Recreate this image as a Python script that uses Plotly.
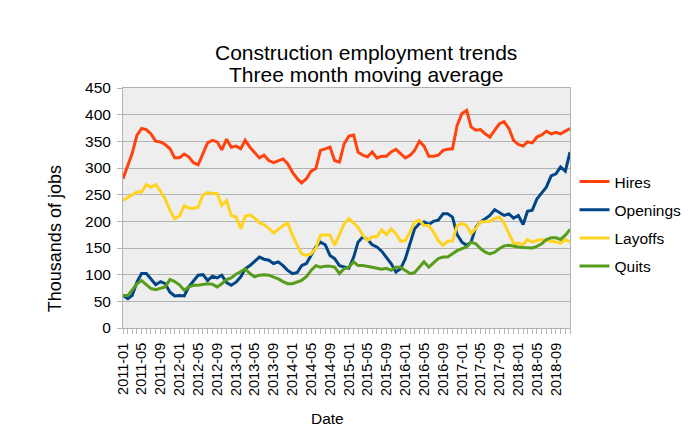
import plotly.graph_objects as go

# ---- data (thousands of jobs, three month moving average) ----
months = [f"{y}-{m:02d}-01" for y in range(2011, 2019) for m in range(1, 13)]

hires = [280, 305, 327, 361, 374, 372, 364, 350, 349, 344, 336, 319, 319, 326, 321, 310,
         306, 327, 347, 352, 349, 334, 354, 339, 341, 336, 352, 339, 330, 319, 324, 314,
         310, 314, 317, 308, 292, 280, 272, 280, 294, 299, 333, 336, 339, 314, 311, 345,
         360, 362, 330, 324, 321, 330, 319, 322, 322, 330, 335, 327, 319, 324, 333, 350,
         341, 322, 322, 324, 333, 335, 336, 380, 402, 408, 377, 371, 372, 364, 358, 371,
         383, 387, 374, 352, 344, 341, 349, 347, 358, 362, 369, 364, 367, 364, 369, 374]

openings = [61, 55, 61, 86, 102, 102, 92, 81, 87, 83, 67, 60, 61, 60, 77, 89,
            99, 100, 89, 97, 94, 99, 85, 80, 86, 96, 111, 117, 124, 133, 129, 127,
            121, 124, 117, 108, 102, 104, 117, 121, 136, 152, 161, 156, 136, 130, 117, 114,
            112, 133, 161, 171, 166, 156, 152, 144, 133, 121, 105, 111, 130, 161, 186, 196,
            199, 194, 200, 202, 214, 214, 208, 175, 161, 155, 161, 189, 199, 205, 211, 222,
            217, 211, 214, 206, 211, 194, 219, 221, 242, 254, 264, 285, 289, 302, 294, 330]

layoffs = [239, 244, 249, 255, 255, 269, 264, 269, 256, 242, 221, 205, 210, 229, 225, 224,
           227, 249, 254, 252, 252, 230, 239, 211, 208, 186, 209, 212, 206, 197, 194, 187,
           178, 185, 192, 197, 174, 155, 139, 136, 139, 149, 174, 175, 174, 155, 175, 195,
           205, 196, 189, 174, 164, 171, 171, 184, 175, 186, 177, 163, 164, 180, 199, 202,
           192, 192, 180, 164, 155, 163, 163, 192, 196, 192, 177, 187, 199, 199, 200, 205,
           208, 196, 177, 159, 159, 156, 166, 161, 164, 166, 164, 163, 161, 159, 166, 161]

quits = [61, 61, 71, 83, 89, 81, 74, 72, 75, 77, 91, 87, 81, 71, 77, 80,
         80, 81, 83, 82, 77, 83, 91, 94, 101, 106, 111, 102, 96, 99, 100, 99,
         96, 92, 87, 83, 83, 86, 89, 96, 108, 117, 114, 116, 116, 114, 102, 111,
         114, 124, 117, 117, 116, 114, 112, 110, 112, 108, 114, 114, 108, 102, 104, 114,
         124, 114, 121, 130, 133, 133, 139, 145, 149, 152, 161, 158, 149, 142, 139, 142,
         149, 154, 155, 153, 152, 151, 150, 150, 153, 158, 166, 169, 169, 166, 174, 185]

series_names = ["Hires", "Openings", "Layoffs", "Quits"]
series_values = [hires, openings, layoffs, quits]
series_colors = ["#ff420e", "#004586", "#ffd320", "#579d1c"]

FONT = "Liberation Sans, Arial, sans-serif"

fig = go.Figure()
for name, vals, col in zip(series_names, series_values, series_colors):
    fig.add_trace(go.Scatter(x=months, y=vals, name=name, mode="lines",
                             legendgroup=name,
                             line=dict(color=col, width=3)))

# The page body has an 8px default margin; compensate so the plot area lands
# at page pixels x 123..570.5, y 88..328.
OFF = 8
W, H = 696 - OFF, 435 - OFF
PL, PR, PT, PB = 123, 570.5, 88, 328   # plot area in page pixels
L = PL - OFF
T = PT - OFF
R = W - (PR - OFF)
B = H - (PB - OFF)
pw = PR - PL
ph = PB - PT

def px_x(p):
    return (p - PL) / pw

def px_y(p):
    return (PB - p) / ph

fig.update_layout(
    width=W, height=H,
    margin=dict(l=L, r=R, t=T, b=B, pad=0, autoexpand=False),
    paper_bgcolor="white",
    plot_bgcolor="#eeeeee",
    font=dict(family=FONT, size=15.5, color="black"),
    showlegend=True,
    legend=dict(x=px_x(575), y=px_y(165), xanchor="left", yanchor="top",
                bgcolor="rgba(0,0,0,0)", tracegroupgap=5,
                font=dict(family=FONT, size=15.5, color="black")),
    xaxis=dict(type="date", range=[months[0], months[-1]], automargin=False,
               tick0=months[0], dtick="M4", tickformat="%Y-%m",
               tickangle=-90, ticks="outside", ticklen=5, tickcolor="#b3b3b3",
               ticklabelstandoff=3,
               minor=dict(dtick="M1", ticks="outside", ticklen=5, tickcolor="#b3b3b3"),
               showgrid=False, showline=True, linecolor="#b3b3b3", linewidth=1,
               mirror=True, tickfont=dict(size=14.5, color="black")),
    yaxis=dict(range=[0, 450], dtick=50, tick0=0, automargin=False,
               ticks="outside", ticklen=5, tickcolor="#b3b3b3",
               ticklabelstandoff=3,
               showgrid=True, gridcolor="#b3b3b3", gridwidth=1,
               showline=True, linecolor="#b3b3b3", linewidth=1, mirror=True,
               zeroline=False, tickfont=dict(size=15.5, color="black")),
    annotations=[
        dict(text="Construction employment trends", xref="paper", yref="paper",
             x=px_x(366), y=px_y(52), xanchor="center", yanchor="middle",
             showarrow=False, font=dict(family=FONT, size=21, color="black")),
        dict(text="Three month moving average", xref="paper", yref="paper",
             x=px_x(366), y=px_y(74.4), xanchor="center", yanchor="middle",
             showarrow=False, font=dict(family=FONT, size=21, color="black")),
        dict(text="Thousands of jobs", xref="paper", yref="paper",
             x=px_x(54.6), y=px_y(238.5), xanchor="center", yanchor="middle",
             textangle=-90, showarrow=False,
             font=dict(family=FONT, size=18, color="black")),
        dict(text="Date", xref="paper", yref="paper",
             x=px_x(328), y=px_y(418.6), xanchor="center", yanchor="middle",
             showarrow=False, font=dict(family=FONT, size=15.5, color="black")),
    ],
)

fig.write_html("out.html")
